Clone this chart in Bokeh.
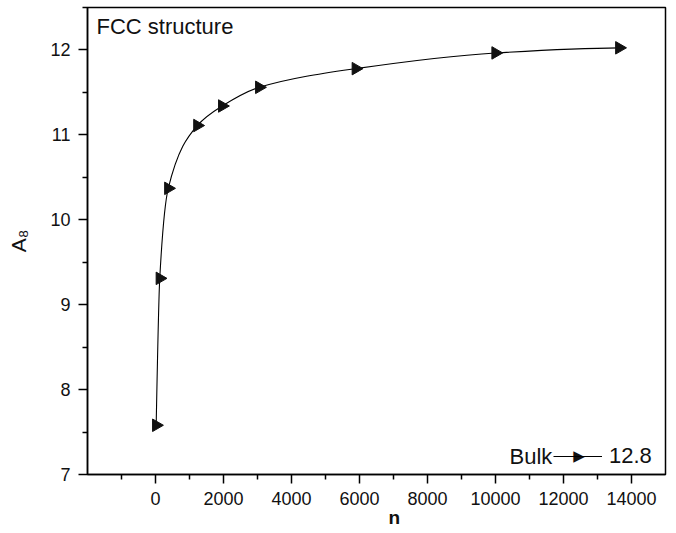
import numpy as np
from bokeh.plotting import figure
from bokeh.models import (FixedTicker, Range1d, Label, Legend, LegendItem,
                          ColumnDataSource, Title)
from bokeh.embed import file_html
from bokeh.resources import INLINE

# ---- data ----
n_atoms = [20, 125, 375, 1230, 1960, 3050, 5890, 10000, 13640]
a8_vals = [7.58, 9.31, 10.37, 11.11, 11.34, 11.56, 11.78, 11.965, 12.025]
x_major = [0, 2000, 4000, 6000, 8000, 10000, 12000, 14000]
x_minor = [-1000, 1000, 3000, 5000, 7000, 9000, 11000, 13000]
y_major = [7, 8, 9, 10, 11, 12]
y_minor = [7.5, 8.5, 9.5, 10.5, 11.5, 12.5]
bulk_value = "12.8"
panel_title = "FCC structure"

FONT = "Liberation Sans"
INK = "#111111"

# ---- smooth monotone curve through the points (cubic Bezier segments) ----
xs = np.array(n_atoms, dtype=float)
ys = np.array(a8_vals, dtype=float)
h = np.diff(xs)
d = np.diff(ys) / h
m = np.zeros_like(xs)
for k in range(1, len(xs) - 1):
    if d[k - 1] * d[k] <= 0:
        m[k] = 0.0
    else:
        w1 = 2 * h[k] + h[k - 1]
        w2 = h[k] + 2 * h[k - 1]
        m[k] = (w1 + w2) / (w1 / d[k - 1] + w2 / d[k])
def _end(h0, h1, d0, d1):
    v = ((2 * h0 + h1) * d0 - h0 * d1) / (h0 + h1)
    if np.sign(v) != np.sign(d0):
        v = 0.0
    elif np.sign(d0) != np.sign(d1) and abs(v) > abs(3 * d0):
        v = 3 * d0
    return v
m[0] = _end(h[0], h[1], d[0], d[1])
m[-1] = _end(h[-1], h[-2], d[-1], d[-2])
seg = ColumnDataSource(dict(
    x0=xs[:-1], y0=ys[:-1], x1=xs[1:], y1=ys[1:],
    cx0=xs[:-1] + h / 3, cy0=ys[:-1] + m[:-1] * h / 3,
    cx1=xs[1:] - h / 3, cy1=ys[1:] - m[1:] * h / 3,
))

p = figure(width=676, height=533, output_backend="svg", toolbar_location=None,
           x_range=Range1d(-2000, 15000), y_range=Range1d(7, 12.5),
           min_border_left=87, min_border_right=11, min_border_top=7, min_border_bottom=59)
p.grid.visible = False
p.outline_line_color = "black"
p.outline_line_width = 1.5
p.background_fill_color = "white"
p.border_fill_color = "white"

for ax in (p.xaxis[0], p.yaxis[0]):
    ax.axis_line_width = 1.5
    ax.axis_line_color = "black"
    ax.major_tick_line_width = 1.5
    ax.minor_tick_line_width = 1.5
    ax.major_tick_out = 9
    ax.major_tick_in = 0
    ax.minor_tick_out = 5
    ax.minor_tick_in = 0
    ax.major_label_text_font = FONT
    ax.major_label_text_font_size = "18px"
    ax.major_label_text_color = INK
    ax.major_label_standoff = 8

p.xaxis[0].ticker = FixedTicker(ticks=x_major, minor_ticks=x_minor)
p.yaxis[0].ticker = FixedTicker(ticks=y_major, minor_ticks=y_minor)

# y axis label A with subscript 8
p.yaxis[0].axis_label = "A\u2088"
p.yaxis[0].axis_label_text_font = FONT
p.yaxis[0].axis_label_text_font_size = "21px"
p.yaxis[0].axis_label_text_font_style = "normal"
p.yaxis[0].axis_label_text_color = INK
p.yaxis[0].axis_label_standoff = 17

# x axis label "n" (bold), offset to the right as in the reference
p.add_layout(Title(text="n", align="left", offset=301, vertical_align="top",
                   standoff=-1, text_font=FONT, text_font_size="19px",
                   text_font_style="bold", text_color=INK), "below")

curve = p.bezier(x0="x0", y0="y0", x1="x1", y1="y1", cx0="cx0", cy0="cy0",
                 cx1="cx1", cy1="cy1", source=seg, line_color="black", line_width=1.1)
pts = p.scatter(n_atoms, a8_vals, marker="triangle", size=12.5, angle=-np.pi / 2,
                fill_color=INK, line_color=INK)

legend = Legend(items=[LegendItem(label=bulk_value, renderers=[curve])],
                location=(466, 5), padding=0, margin=0, spacing=0,
                glyph_width=49, glyph_height=20, label_standoff=7, label_height=20,
                label_text_font=FONT, label_text_font_size="22px",
                label_text_color=INK,
                background_fill_alpha=0, border_line_alpha=0)
p.add_layout(legend)

def lab(text, x, y, size, font=FONT, **kw):
    p.add_layout(Label(text=text, x=x, y=y, x_units="screen", y_units="screen",
                       text_font=font, text_font_size=size, text_color=INK, **kw))

lab(panel_title, 9, 448, "22px", text_baseline="middle")
lab("Bulk", 422, 18.5, "22px", text_baseline="middle")
# the marker of the legend sample (a right-pointing triangle)
lab("\u25B6", 491.5, 19, "15px", font="DejaVu Sans", text_align="center", text_baseline="middle")

open("out.html", "w").write(file_html(p, INLINE))
